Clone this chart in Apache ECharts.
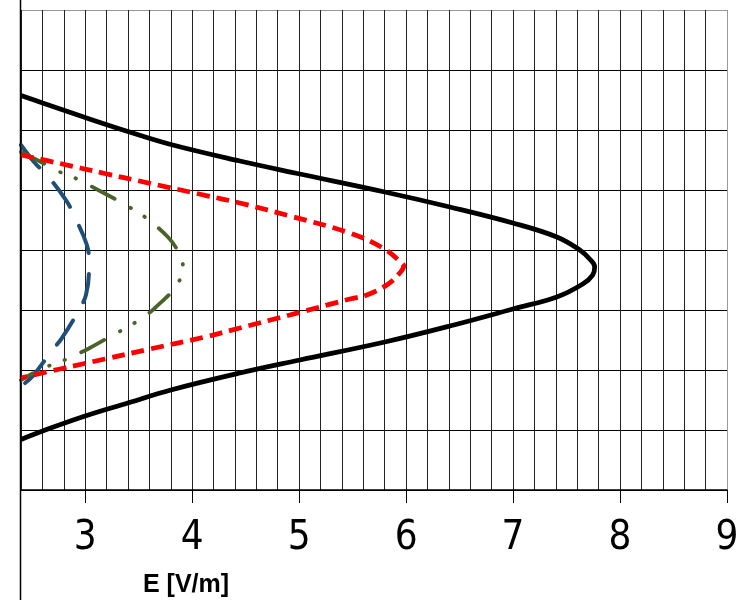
<!DOCTYPE html>
<html>
<head>
<meta charset="utf-8">
<script src="https://cdn.jsdelivr.net/npm/echarts@6/dist/echarts.min.js"></script>
<style>html,body{margin:0;padding:0;background:#fff}#c{width:745px;height:600px}</style>
</head>
<body>
<div id="c"></div>
<script>
// E [V/m] values and vertical position (grid units) for each curve
const blackE = [2.4, 2.602, 3.0, 3.399, 3.801, 4.446, 5.007, 5.801, 6.409, 6.998, 7.409, 7.624, 7.716, 7.763,
                7.744, 7.652, 7.409, 6.998, 6.409, 5.801, 5.007, 4.446, 3.801, 3.399, 3.0, 2.602, 2.4];
const blackY = [6.575, 6.45, 6.208, 5.975, 5.758, 5.483, 5.267, 4.967, 4.717, 4.45, 4.217, 4.0, 3.85, 3.717,
                3.583, 3.433, 3.217, 3.017, 2.733, 2.467, 2.167, 1.95, 1.667, 1.45, 1.233, 0.983, 0.842];

const redE = [2.4, 2.764, 3.184, 3.605, 4.119, 4.446, 4.913, 5.474, 5.782, 5.960, 5.978,
              5.941, 5.819, 5.633, 5.474, 4.913, 4.446, 4.119, 3.605, 3.184, 2.764, 2.4];
const redY = [5.583, 5.442, 5.275, 5.112, 4.912, 4.783, 4.567, 4.283, 4.033, 3.783, 3.733,
              3.617, 3.417, 3.25, 3.183, 2.917, 2.7, 2.55, 2.35, 2.183, 2.017, 1.867];

const blueE = [2.4, 2.53, 2.642, 2.82, 2.894, 3.016, 3.035, 3.035, 3.007, 2.932, 2.782, 2.679, 2.502, 2.4];
const blueY = [5.75, 5.45, 5.25, 4.833, 4.583, 4.083, 3.8, 3.667, 3.25, 2.967, 2.533, 2.3, 1.883, 1.733];

const greenE = [2.4, 2.623, 2.764, 2.904, 3.156, 3.296, 3.427, 3.558, 3.773, 3.866, 3.913,
                3.857, 3.651, 3.53, 3.399, 3.259, 3.025, 2.885, 2.745, 2.605, 2.4];
const greenY = [5.633, 5.433, 5.3, 5.2, 4.967, 4.833, 4.7, 4.55, 4.217, 3.983, 3.733,
                3.417, 3.033, 2.867, 2.717, 2.583, 2.35, 2.233, 2.117, 2.033, 1.833];

const xTickLabels = [3, 4, 5, 6, 7, 8, 9];
const xName = 'E [V/m]';

function pairs(xs, ys) { return xs.map((x, i) => [x, ys[i]]); }

const xMin = 2.4, xMax = 9, xStep = 0.2;
const nV = Math.round((xMax - xMin) / xStep) + 1;
const vColors = [];
for (let i = 0; i < nV; i++) vColors.push(i === nV - 1 ? '#999' : '#222');
const hColors = [];
for (let i = 0; i < 9; i++) hColors.push(i === 8 ? '#999' : '#000');

const chart = echarts.init(document.getElementById('c'), null, {renderer: 'canvas'});
chart.setOption({
  animation: false,
  backgroundColor: '#fff',
  title: {
    text: xName, left: 138, top: 568,
    textStyle: {fontFamily: 'Liberation Sans, Arial, sans-serif', fontSize: 25, fontWeight: 'bold', color: '#000'}
  },
  grid: {left: 21, right: 18, top: 10, bottom: 110, containLabel: false},
  xAxis: [{
    type: 'value', min: xMin, max: xMax, interval: xStep,
    axisLine: {show: true, onZero: false, lineStyle: {color: '#000', width: 1.5}},
    axisTick: {show: true, customValues: xTickLabels, length: 13, lineStyle: {color: '#000', width: 1}},
    axisLabel: {show: true, customValues: xTickLabels, margin: 29, color: '#000', fontSize: 40,
      fontFamily: 'Liberation Sans Narrow, Arial Narrow, DejaVu Sans Condensed, sans-serif'},
    splitLine: {show: false}
  }, {
    type: 'value', min: xMin, max: xMax, interval: xStep, position: 'bottom',
    axisLine: {show: false}, axisTick: {show: false}, axisLabel: {show: false},
    splitLine: {show: true, lineStyle: {color: vColors, width: 1}}
  }],
  yAxis: {
    type: 'value', min: 0, max: 8, interval: 1,
    axisLine: {show: false}, axisTick: {show: false}, axisLabel: {show: false},
    splitLine: {show: true, lineStyle: {color: hColors, width: 1}}
  },
  graphic: [{
    type: 'line', shape: {x1: 20.5, y1: 0, x2: 20.5, y2: 600},
    style: {stroke: '#000', lineWidth: 1.5}, z: 100
  }],
  series: [
    {type: 'line', data: pairs(blueE, blueY), smooth: 0.4, symbol: 'none', clip: true,
     lineStyle: {color: '#1f4e79', width: 4, type: [29, 21], cap: 'round'}},
    {type: 'line', data: pairs(greenE, greenY), smooth: 0.4, symbol: 'none', clip: true,
     lineStyle: {color: '#4a6328', width: 3.8, type: [26, 18, 0.5, 16, 0.5, 18], cap: 'round'}},
    {type: 'line', data: pairs(redE, redY), smooth: 0.4, symbol: 'none', clip: true,
     lineStyle: {color: '#ff0000', width: 4.8, type: [13, 7]}},
    {type: 'line', data: pairs(blackE, blackY), smooth: 0.4, symbol: 'none', clip: true,
     lineStyle: {color: '#000', width: 4.8}}
  ]
});
</script>
</body>
</html>
